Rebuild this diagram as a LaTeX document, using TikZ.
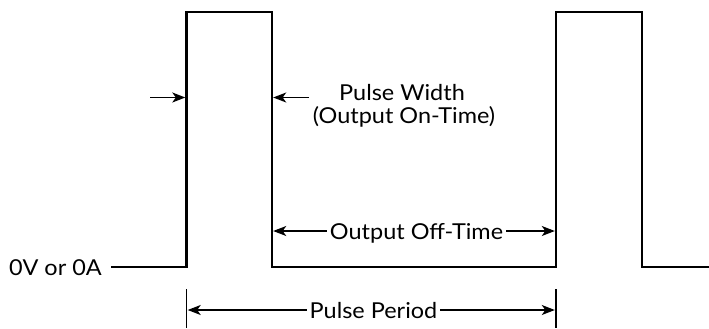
\documentclass[tikz,border=0pt]{standalone}
\usepackage{fontspec}
\setmainfont[FakeStretch=1.07]{Lato}
\usetikzlibrary{arrows.meta,positioning}

\tikzset{
  wave/.style={line width=2.4bp,line join=miter},
  dimarrow/.style={-{Stealth[length=13bp,width=10bp,inset=3.5bp]},line width=1.4bp,shorten >=1.2bp},
  tick/.style={line width=1.4bp},
  lbl/.style={font=\fontsize{22}{22}\selectfont,inner sep=3bp,anchor=base}
}

\begin{document}
\begin{tikzpicture}[x=1bp,y=-1bp]
\useasboundingbox (0,0) rectangle (709,328);

% edges of the two pulses
\foreach \x [count=\n] in {186.5,272,556,642}{
  \coordinate (T\n) at (\x,12);
  \coordinate (B\n) at (\x,267);
}
\coordinate (start) at (111,267);
\coordinate (stop) at (709,267);

\node[lbl,anchor=base east] (zero) at (105,275) {0V or 0A};
\draw[wave] (start) -- (B1) -- (T1) -- (T2) -- (B2) -- (B3) -- (T3) -- (T4) -- (B4) -- (stop);

% pulse width
\coordinate (wl) at (150,97.5);
\coordinate (wa) at (186.5,97.5);
\coordinate (wb) at (272,97.5);
\coordinate (wr) at (309,97.5);
\draw[dimarrow] (wl) -- (wa);
\draw[dimarrow] (wr) -- (wb);
\node[lbl] (width) at (402,100.7) {Pulse Width};
\node[lbl] (ontime) at (404,123) {(Output On-Time)};

% off time
\node[lbl] (off) at (416.5,239) {Output Off-Time};
\coordinate (oa) at (272,231);
\coordinate (ob) at (556,231);
\draw[dimarrow] (off.west |- oa) -- (oa);
\draw[dimarrow] (off.east |- ob) -- (ob);

% period
\coordinate (p1) at (186.5,289);
\coordinate (p2) at (556,289);
\coordinate (q1) at (186.5,328);
\coordinate (q2) at (556,328);
\draw[tick] (p1) -- (q1);
\draw[tick] (p2) -- (q2);
\node[lbl] (period) at (373.5,318) {Pulse Period};
\coordinate (pa) at (186.5,310);
\coordinate (pb) at (556,310);
\draw[dimarrow] (period.west |- pa) -- (pa);
\draw[dimarrow] (period.east |- pb) -- (pb);
\end{tikzpicture}
\end{document}
